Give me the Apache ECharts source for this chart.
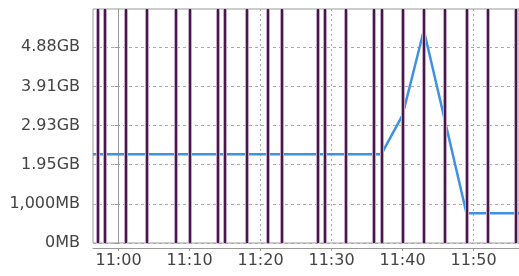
<!DOCTYPE html>
<html>
<head>
<meta charset="utf-8">
<script src="https://cdn.jsdelivr.net/npm/echarts@6/dist/echarts.min.js"></script>
<style>html,body{margin:0;padding:0;background:#fff}#c{width:519px;height:276px}</style>
</head>
<body>
<div id="c"></div>
<script>
// Memory usage (MB) sampled over time
const sampleTimes = ['10:56:24','10:58','11:01','11:04','11:07','11:10','11:13','11:16','11:19','11:22','11:25','11:28','11:31','11:34','11:37','11:40','11:43','11:46','11:49','11:52','11:55','11:56:24'];
const memoryMB   = [2263,2263,2263,2263,2263,2263,2263,2263,2263,2263,2263,2263,2263,2263,2263,3265,5434,3100,758,758,758,758];
// Event marker times (vertical lines)
const eventTimes = ['10:57','10:58','11:01','11:04','11:08','11:10','11:14','11:15','11:18','11:21','11:23','11:28','11:29','11:32','11:36','11:37','11:40','11:43','11:46','11:49','11:52','11:56'];
// Axis ticks
const xTickTimes = ['11:00','11:10','11:20','11:30','11:40','11:50'];
const yTickValues = [0,1000,2000,3000,4000,5000];
const yTickLabels = ['0MB','1,000MB','1.95GB','2.93GB','3.91GB','4.88GB'];
const xRange = ['10:56:24','11:56:24'];
const yMax = 5975;

function toMin(t){const p=t.split(':').map(Number);return (p[0]-11)*60+p[1]+(p[2]||0)/60;}
const xTicks = xTickTimes.map(toMin);
const lineData = sampleTimes.map((t,i)=>[toMin(t),memoryMB[i]]);
const evData = eventTimes.map(t=>({xAxis:toMin(t)}));

const font = {fontFamily:'DejaVu Sans',fontSize:16,color:'#444'};
const chart = echarts.init(document.getElementById('c'),null,{renderer:'canvas'});
chart.setOption({
  animation:false,
  backgroundColor:'#fff',
  grid:{left:93,right:-2,top:9,bottom:33,show:true,borderColor:'#999',borderWidth:1,backgroundColor:'#fff'},
  xAxis:{
    type:'value',min:toMin(xRange[0]),max:toMin(xRange[1]),offset:5,
    axisLine:{show:true,onZero:false,lineStyle:{color:'#999'}},
    axisTick:{show:true,length:3,customValues:xTicks,lineStyle:{color:'#999'}},
    axisLabel:Object.assign({margin:5,customValues:xTicks,formatter:v=>xTickTimes[xTicks.indexOf(v)]||''},font),
    splitLine:{show:true,lineStyle:{color:'#aaa',type:[2,3],width:1}}
  },
  yAxis:{
    type:'value',min:0,max:yMax,interval:1000,offset:5,
    axisLine:{show:true,lineStyle:{color:'#999'}},
    axisTick:{show:true,length:4,customValues:yTickValues,lineStyle:{color:'#999'}},
    axisLabel:Object.assign({margin:8,customValues:yTickValues,formatter:v=>{const i=yTickValues.indexOf(v);return i>=0?yTickLabels[i]:'';}},font),
    splitLine:{show:true,lineStyle:{color:'#aaa',type:[3,3],width:1}}
  },
  series:[
    {type:'line',data:lineData,showSymbol:false,symbol:'none',clip:true,z:2,
     lineStyle:{color:'#3f92e2',width:2.5}},
    {type:'line',data:[],z:3,markLine:{silent:true,symbol:'none',label:{show:false},animation:false,
      lineStyle:{color:'#c4a6c6',width:4,type:'solid'},data:evData}},
    {type:'line',data:[],z:4,markLine:{silent:true,symbol:'none',label:{show:false},animation:false,
      lineStyle:{color:'#48174b',width:2,type:'solid'},data:evData}}
  ]
});
</script>
</body>
</html>
